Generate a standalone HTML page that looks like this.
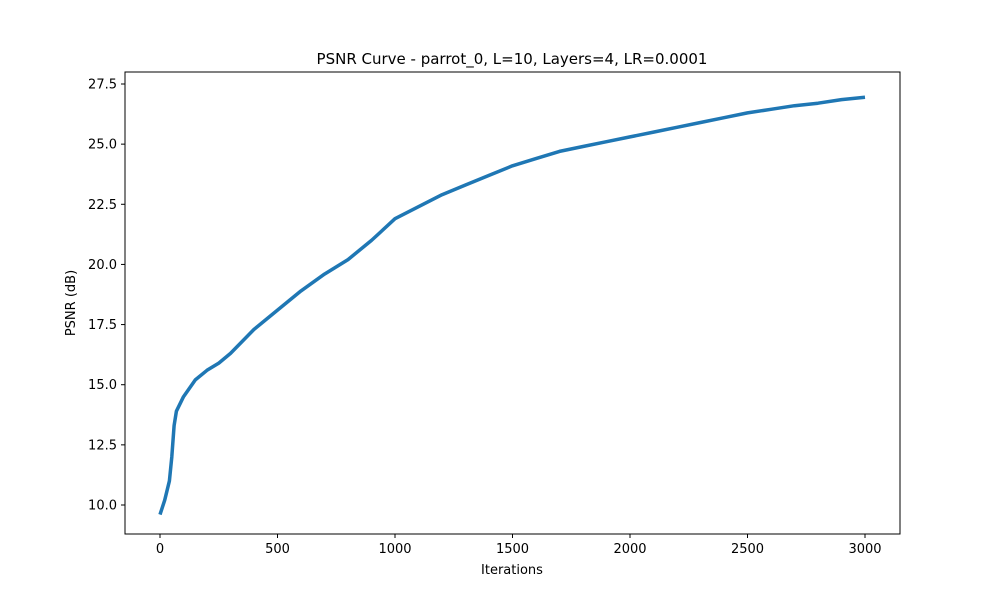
<!DOCTYPE html>
<html><head><meta charset="utf-8"><style>
body{margin:0;background:#fff}
svg text{font-family:"DejaVu Sans","Liberation Sans",sans-serif;fill:#000}
</style></head><body>
<svg id="chart" width="1000" height="600">
<rect width="1000" height="600" fill="#fff"/>
<text x="512" y="64" font-size="15" text-anchor="middle">PSNR Curve - parrot_0, L=10, Layers=4, LR=0.0001</text>
<g id="xticks"></g><g id="yticks"></g>
<path id="line" fill="none" stroke="#1f77b4" stroke-width="3.5" stroke-linejoin="round"/>
<rect x="125" y="72" width="775" height="462" fill="none" stroke="#000" stroke-width="1"/>
<text x="512" y="574" font-size="13" text-anchor="middle">Iterations</text>
<text x="75" y="303" font-size="13" text-anchor="middle" transform="rotate(-90 75 303)">PSNR (dB)</text>
</svg>
<script>
const iterations=[0,20,40,50,60,70,100,150,200,250,300,400,500,600,700,800,900,1000,1100,1200,1300,1400,1500,1600,1700,1800,1900,2000,2100,2200,2300,2400,2500,2600,2700,2800,2900,3000];
const psnr=[9.6,10.2,11.0,12.0,13.3,13.9,14.5,15.2,15.6,15.9,16.3,17.3,18.1,18.9,19.6,20.2,21.0,21.9,22.4,22.9,23.3,23.7,24.1,24.4,24.7,24.9,25.1,25.3,25.5,25.7,25.9,26.1,26.3,26.45,26.6,26.7,26.85,26.95];
const xTicks=[0,500,1000,1500,2000,2500,3000];
const yTicks=[10.0,12.5,15.0,17.5,20.0,22.5,25.0,27.5];
const X=v=>160+v*(705/3000);
const Y=v=>505-(v-10)*(421/17.5);
const ns="http://www.w3.org/2000/svg";
let d="";
iterations.forEach((it,i)=>{d+=(i?"L":"M")+X(it).toFixed(1)+","+Y(psnr[i]).toFixed(1);});
document.getElementById("line").setAttribute("d",d);
const xg=document.getElementById("xticks"),yg=document.getElementById("yticks");
xTicks.forEach(t=>{
 const l=document.createElementNS(ns,"line");
 l.setAttribute("x1",X(t));l.setAttribute("x2",X(t));l.setAttribute("y1",534);l.setAttribute("y2",538);l.setAttribute("stroke","#000");
 
 
 xg.appendChild(l);
 const tx=document.createElementNS(ns,"text");
 tx.setAttribute("x",X(t));tx.setAttribute("y",553);tx.setAttribute("font-size","13");tx.setAttribute("text-anchor","middle");
 tx.textContent=t;
 
 
 xg.appendChild(tx);
});
yTicks.forEach(t=>{
 const l=document.createElementNS(ns,"line");
 l.setAttribute("x1",121);l.setAttribute("x2",125);l.setAttribute("y1",Y(t));l.setAttribute("y2",Y(t));l.setAttribute("stroke","#000");
 
 
 yg.appendChild(l);
 const tx=document.createElementNS(ns,"text");
 tx.setAttribute("x",117);tx.setAttribute("y",Y(t)+4.5);tx.setAttribute("font-size","13");tx.setAttribute("text-anchor","end");
 tx.textContent=t.toFixed(1);
 
 
 yg.appendChild(tx);
});
</script>
</body></html>
